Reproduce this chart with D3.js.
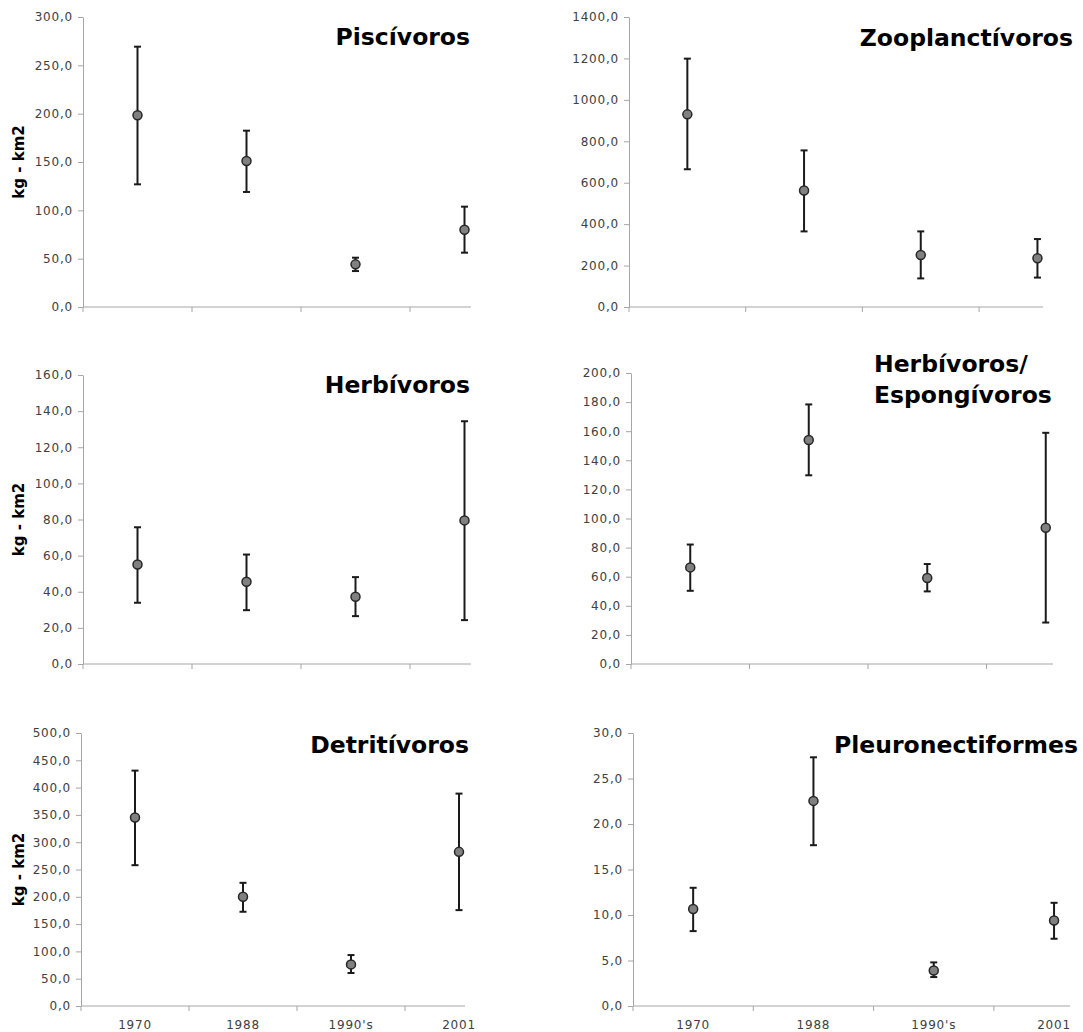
<!DOCTYPE html>
<html>
<head>
<meta charset="utf-8">
<script src="https://cdn.jsdelivr.net/npm/d3@7"></script>
<style>
  body { margin: 0; background: #fff; }
  svg { display: block; }
</style>
</head>
<body>
<div id="chart"></div>
<script>
const categories = ["1970", "1988", "1990's", "2001"];

const piscivorosMean = [198.3, 151.0, 44.1, 80.0];
const piscivorosLow = [126.9, 119.0, 37.2, 56.2];
const piscivorosHigh = [269.3, 182.4, 51.0, 103.8];
const piscivorosTicks = [0, 50, 100, 150, 200, 250, 300];

const zooplanctivorosMean = [930, 562, 251, 235];
const zooplanctivorosLow = [665, 365, 138, 142];
const zooplanctivorosHigh = [1199, 756, 365, 328];
const zooplanctivorosTicks = [0, 200, 400, 600, 800, 1000, 1200, 1400];

const herbivorosMean = [55.1, 45.5, 37.2, 79.5];
const herbivorosLow = [33.9, 29.8, 26.5, 24.3];
const herbivorosHigh = [75.7, 60.6, 48.1, 134.4];
const herbivorosTicks = [0, 20, 40, 60, 80, 100, 120, 140, 160];

const espongivorosMean = [66.4, 154.0, 59.1, 93.6];
const espongivorosLow = [50.3, 129.7, 49.9, 28.5];
const espongivorosHigh = [82.1, 178.4, 68.7, 158.9];
const espongivorosTicks = [0, 20, 40, 60, 80, 100, 120, 140, 160, 180, 200];

const detritivorosMean = [345.1, 200.0, 76.2, 282.3];
const detritivorosLow = [257.9, 172.6, 60.4, 175.6];
const detritivorosHigh = [431.1, 225.6, 93.3, 389.0];
const detritivorosTicks = [0, 50, 100, 150, 200, 250, 300, 350, 400, 450, 500];

const pleuroMean = [10.65, 22.54, 3.91, 9.40];
const pleuroLow = [8.23, 17.67, 3.18, 7.39];
const pleuroHigh = [12.99, 27.33, 4.79, 11.34];
const pleuroTicks = [0, 5, 10, 15, 20, 25, 30];

const panels = [
  { title: ["Piscívoros"], mean: piscivorosMean, low: piscivorosLow, high: piscivorosHigh, ticks: piscivorosTicks },
  { title: ["Zooplanctívoros"], mean: zooplanctivorosMean, low: zooplanctivorosLow, high: zooplanctivorosHigh, ticks: zooplanctivorosTicks },
  { title: ["Herbívoros"], mean: herbivorosMean, low: herbivorosLow, high: herbivorosHigh, ticks: herbivorosTicks },
  { title: ["Herbívoros/", "Espongívoros"], mean: espongivorosMean, low: espongivorosLow, high: espongivorosHigh, ticks: espongivorosTicks },
  { title: ["Detritívoros"], mean: detritivorosMean, low: detritivorosLow, high: detritivorosHigh, ticks: detritivorosTicks },
  { title: ["Pleuronectiformes"], mean: pleuroMean, low: pleuroLow, high: pleuroHigh, ticks: pleuroTicks }
];

// where each panel sits on the page
const layout = [
  { left: 83, right: 471, band: 109, top: 17, bottom: 307, titleX: 470, titleY: 45, anchor: "end", yLabel: true, xLabels: false },
  { left: 629, right: 1043, band: 116.7, top: 17, bottom: 307, titleX: 1073, titleY: 46, anchor: "end", yLabel: false, xLabels: false },
  { left: 83, right: 471, band: 109, top: 375, bottom: 664, titleX: 470, titleY: 393, anchor: "end", yLabel: true, xLabels: false },
  { left: 631, right: 1053, band: 118.5, top: 373, bottom: 664, titleX: 874, titleY: 372, anchor: "start", yLabel: false, xLabels: false },
  { left: 81, right: 465, band: 108, top: 733, bottom: 1006, titleX: 469, titleY: 753, anchor: "end", yLabel: true, xLabels: true },
  { left: 633, right: 1070, band: 120.3, top: 733, bottom: 1006, titleX: 1078, titleY: 753, anchor: "end", yLabel: false, xLabels: true }
];

const axisColor = "#a6a6a6";
const textColor = "#404040";
const barColor = "#1a1a1a";

const locale = d3.formatLocale({ decimal: ",", thousands: "", grouping: [3], currency: ["", ""] });
const fmt = locale.format(".1f");

const svg = d3.select("#chart").append("svg")
  .attr("width", 1083)
  .attr("height", 1032)
  .style("font-family", "'DejaVu Sans', Verdana, sans-serif");

function drawPanel(p, L) {
  const x = d3.scaleBand().domain(categories).range([L.left, L.left + 4 * L.band]);
  const y = d3.scaleLinear().domain([0, d3.max(p.ticks)]).range([L.bottom, L.top]);

  const g = svg.append("g");

  const yAxis = g.append("g")
    .attr("transform", "translate(" + L.left + ",0)")
    .call(d3.axisLeft(y).tickValues(p.ticks).tickFormat(fmt).tickSize(5).tickSizeOuter(0).tickPadding(5));
  yAxis.select(".domain").attr("stroke", axisColor);
  yAxis.selectAll(".tick line").attr("stroke", axisColor);
  yAxis.selectAll(".tick text")
    .attr("fill", textColor)
    .style("font-size", "12px")
    .style("letter-spacing", "0.8px")
    .style("font-family", "'DejaVu Sans', Verdana, sans-serif");

  // x axis line, cut off a little past the last point like the original
  g.append("line")
    .attr("x1", L.left).attr("x2", L.right)
    .attr("y1", L.bottom).attr("y2", L.bottom)
    .attr("stroke", axisColor);

  g.selectAll(".xtick")
    .data(categories)
    .join("line")
    .attr("class", "xtick")
    .attr("x1", d => x(d)).attr("x2", d => x(d))
    .attr("y1", L.bottom).attr("y2", L.bottom + 5)
    .attr("stroke", axisColor);

  if (L.xLabels) {
    g.selectAll(".xlabel")
      .data(categories)
      .join("text")
      .attr("class", "xlabel")
      .attr("x", d => x(d) + x.bandwidth() / 2)
      .attr("y", L.bottom + 23)
      .attr("text-anchor", "middle")
      .attr("fill", textColor)
      .style("font-size", "12px")
      .style("letter-spacing", "0.8px")
      .text(d => d);
  }

  if (L.yLabel) {
    g.append("text")
      .attr("transform", "translate(" + 24 + "," + ((L.top + L.bottom) / 2) + ") rotate(-90)")
      .attr("text-anchor", "middle")
      .attr("fill", "#000")
      .style("font-size", "15px")
      .style("font-weight", "bold")
      .text("kg - km2");
  }

  const cap = 3.5;
  const pts = categories.map((c, i) => ({ c, mean: p.mean[i], low: p.low[i], high: p.high[i] }));

  const bars = g.selectAll(".err").data(pts).join("g").attr("class", "err");
  bars.append("line")
    .attr("x1", d => x(d.c) + x.bandwidth() / 2).attr("x2", d => x(d.c) + x.bandwidth() / 2)
    .attr("y1", d => y(d.low)).attr("y2", d => y(d.high))
    .attr("stroke", barColor).attr("stroke-width", 2);
  bars.append("line")
    .attr("x1", d => x(d.c) + x.bandwidth() / 2 - cap).attr("x2", d => x(d.c) + x.bandwidth() / 2 + cap)
    .attr("y1", d => y(d.high)).attr("y2", d => y(d.high))
    .attr("stroke", barColor).attr("stroke-width", 2);
  bars.append("line")
    .attr("x1", d => x(d.c) + x.bandwidth() / 2 - cap).attr("x2", d => x(d.c) + x.bandwidth() / 2 + cap)
    .attr("y1", d => y(d.low)).attr("y2", d => y(d.low))
    .attr("stroke", barColor).attr("stroke-width", 2);

  g.selectAll(".pt")
    .data(pts)
    .join("circle")
    .attr("class", "pt")
    .attr("cx", d => x(d.c) + x.bandwidth() / 2)
    .attr("cy", d => y(d.mean))
    .attr("r", 4.5)
    .attr("fill", "#808080")
    .attr("stroke", "#262626")
    .attr("stroke-width", 1.5);

  const title = g.append("text")
    .attr("x", L.titleX)
    .attr("y", L.titleY)
    .attr("text-anchor", L.anchor)
    .attr("fill", "#000")
    .style("font-size", "23.5px")
    .style("font-weight", "bold");
  title.selectAll("tspan")
    .data(p.title)
    .join("tspan")
    .attr("x", L.titleX)
    .attr("dy", (d, i) => i === 0 ? 0 : 31)
    .text(d => d);
}

panels.forEach((p, i) => drawPanel(p, layout[i]));
</script>
</body>
</html>
